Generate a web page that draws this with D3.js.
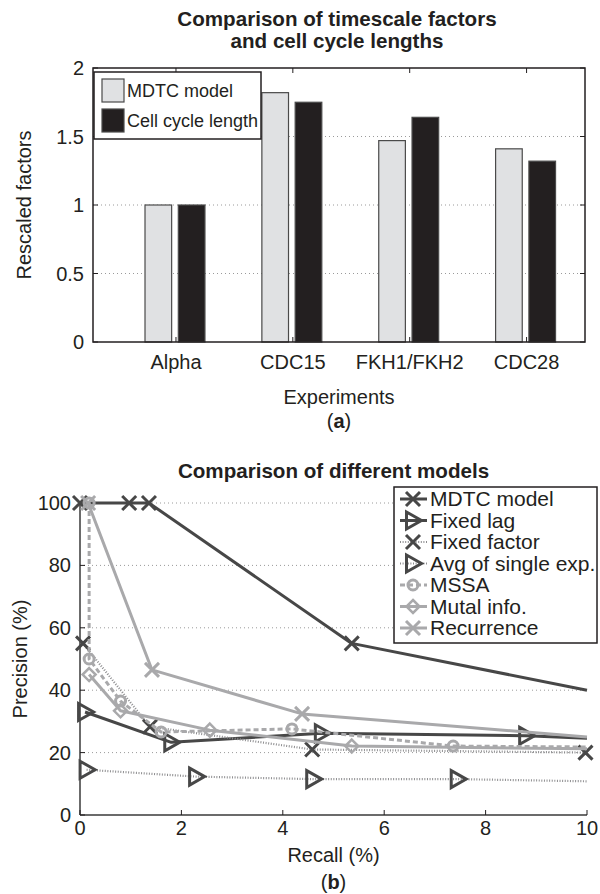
<!DOCTYPE html>
<html><head><meta charset="utf-8">
<script src="https://cdn.jsdelivr.net/npm/d3@7"></script>
<style>body{margin:0;background:#fff;} text{font-family:"Liberation Sans",Arial,Helvetica,sans-serif;fill:#231f20;}</style>
</head><body><svg id="c" width="600" height="894"></svg>
<script>
// ---------- Panel (a) data ----------
const categories = ["Alpha", "CDC15", "FKH1/FKH2", "CDC28"];
const mdtcFactors = [1.0, 1.82, 1.47, 1.41];
const cellCycleLengths = [1.0, 1.75, 1.64, 1.32];
const barSeriesNames = ["MDTC model", "Cell cycle length"];
const barYTicks = [0, 0.5, 1, 1.5, 2];
const barYTickLabels = ["0", "0.5", "1", "1.5", "2"];

// ---------- Panel (b) data ----------
const lineSeriesNames = ["MDTC model", "Fixed lag", "Fixed factor", "Avg of single exp.", "MSSA", "Mutal info.", "Recurrence"];
const mdtcRecall = [0, 0.97, 1.36, 5.36, 10];
const mdtcPrecision = [100, 100, 100, 55, 40];
const fixedLagRecall = [0.1, 1.8, 4.77, 8.8, 10];
const fixedLagPrecision = [33, 23.3, 26.2, 25.4, 24.6];
const fixedFactorRecall = [0.06, 1.38, 4.58, 9.97];
const fixedFactorPrecision = [55, 28.3, 21, 20];
const avgSingleRecall = [0.13, 2.29, 4.6, 7.45, 10];
const avgSinglePrecision = [14.5, 12.3, 11.5, 11.5, 10.8];
const mssaRecall = [0.18, 0.18, 0.8, 1.6, 4.18, 7.36, 10];
const mssaPrecision = [100, 50, 36.5, 26.6, 27.6, 22.1, 21.8];
const mutalRecall = [0.18, 0.8, 2.56, 5.36, 10];
const mutalPrecision = [45, 33.4, 27.2, 22.1, 21.2];
const recurrenceRecall = [0.16, 1.42, 4.38, 10];
const recurrencePrecision = [100, 46.5, 32.4, 25];
const recallTicks = [0, 2, 4, 6, 8, 10];
const precisionTicks = [0, 20, 40, 60, 80, 100];

const svg = d3.select("#c");
const DARK = "#474747", LIGHT = "#a9a9ab", AX = "#231f20";
const FS = 20, TFS = 20.6;

// ================= Panel (a) =================
const A = {l: 93, r: 585, t: 68, b: 342};
const xa = d3.scaleLinear().domain([0.29, 4.5]).range([A.l, A.r]);
const ya = d3.scaleLinear().domain([0, 2]).range([A.b, A.t]);
const ga = svg.append("g");

ga.append("text").attr("x", 337).attr("y", 26).attr("text-anchor", "middle")
  .attr("font-size", TFS).attr("font-weight", "bold").text("Comparison of timescale factors");
ga.append("text").attr("x", 337).attr("y", 48).attr("text-anchor", "middle")
  .attr("font-size", TFS).attr("font-weight", "bold").text("and cell cycle lengths");

// grid
ga.selectAll(".ga").data(barYTicks.filter(v => v > 0 && v < 2)).join("line")
  .attr("x1", A.l).attr("x2", A.r).attr("y1", d => ya(d)).attr("y2", d => ya(d))
  .attr("stroke", "#9a9a9a").attr("stroke-width", 1).attr("stroke-dasharray", "1,3");

const catIdx = categories.map((c, i) => i + 1);
const bw = 0.228;
ga.selectAll(".b1").data(mdtcFactors).join("rect")
  .attr("x", (d, i) => xa(catIdx[i] - 0.265)).attr("width", xa(bw) - xa(0))
  .attr("y", d => ya(d)).attr("height", d => ya(0) - ya(d))
  .attr("fill", "#e0e1e3").attr("stroke", "#4a4a4a").attr("stroke-width", 1.2);
ga.selectAll(".b2").data(cellCycleLengths).join("rect")
  .attr("x", (d, i) => xa(catIdx[i] + 0.02)).attr("width", xa(bw) - xa(0))
  .attr("y", d => ya(d)).attr("height", d => ya(0) - ya(d))
  .attr("fill", "#231f20").attr("stroke", "#4a4a4a").attr("stroke-width", 1.2);

// box
ga.append("rect").attr("x", A.l).attr("y", A.t).attr("width", A.r - A.l).attr("height", A.b - A.t)
  .attr("fill", "none").attr("stroke", AX).attr("stroke-width", 1.5);

const tl = 5;
barYTicks.forEach((v, i) => {
  ga.append("line").attr("x1", A.l).attr("x2", A.l + tl).attr("y1", ya(v)).attr("y2", ya(v)).attr("stroke", AX);
  ga.append("line").attr("x1", A.r).attr("x2", A.r - tl).attr("y1", ya(v)).attr("y2", ya(v)).attr("stroke", AX);
  ga.append("text").attr("x", 84).attr("y", ya(v)).attr("dy", "0.35em").attr("text-anchor", "end")
    .attr("font-size", FS).text(barYTickLabels[i]);
});
categories.forEach((c, i) => {
  const x = xa(catIdx[i]);
  ga.append("line").attr("x1", x).attr("x2", x).attr("y1", A.b).attr("y2", A.b - tl).attr("stroke", AX);
  ga.append("line").attr("x1", x).attr("x2", x).attr("y1", A.t).attr("y2", A.t + tl).attr("stroke", AX);
  ga.append("text").attr("x", x).attr("y", 369).attr("text-anchor", "middle").attr("font-size", FS).text(c);
});
ga.append("text").attr("x", (A.l + A.r) / 2).attr("y", 404).attr("text-anchor", "middle").attr("font-size", FS).text("Experiments");
const ta = ga.append("text").attr("x", (A.l + A.r) / 2).attr("y", 428).attr("text-anchor", "middle").attr("font-size", FS);
ta.append("tspan").text("("); ta.append("tspan").attr("font-weight", "bold").text("a"); ta.append("tspan").text(")");
ga.append("text").attr("transform", "translate(31," + (A.t + A.b) / 2 + ") rotate(-90)")
  .attr("text-anchor", "middle").attr("font-size", FS).text("Rescaled factors");

// legend a
const la = ga.append("g");
la.append("rect").attr("x", 94).attr("y", 72).attr("width", 167).attr("height", 67)
  .attr("fill", "#fff").attr("stroke", AX).attr("stroke-width", 1.5);
[["#e0e1e3", 79], ["#231f20", 109]].forEach((s, i) => {
  la.append("rect").attr("x", 102).attr("y", s[1]).attr("width", 22).attr("height", 23)
    .attr("fill", s[0]).attr("stroke", "#4a4a4a").attr("stroke-width", 1.2);
  la.append("text").attr("x", 127).attr("y", s[1] + 11.5).attr("dy", "0.35em").attr("font-size", 18).text(barSeriesNames[i]);
});

// ================= Panel (b) =================
const B = {l: 80, r: 587, t: 503, b: 815};
const xb = d3.scaleLinear().domain([0, 10]).range([B.l, B.r]);
const yb = d3.scaleLinear().domain([0, 100]).range([B.b, B.t]);
const gb = svg.append("g");

gb.append("text").attr("x", (B.l + B.r) / 2).attr("y", 478).attr("text-anchor", "middle")
  .attr("font-size", TFS).attr("font-weight", "bold").text("Comparison of different models");

gb.selectAll(".gb").data(precisionTicks.filter(v => v > 0)).join("line")
  .attr("x1", B.l).attr("x2", B.r).attr("y1", d => yb(d)).attr("y2", d => yb(d))
  .attr("stroke", "#9a9a9a").attr("stroke-width", 1).attr("stroke-dasharray", "1,3");

gb.append("line").attr("x1", B.l).attr("x2", B.l).attr("y1", B.t).attr("y2", B.b).attr("stroke", "#3a3a3a").attr("stroke-width", 1.5);
gb.append("line").attr("x1", B.l).attr("x2", B.r).attr("y1", B.b).attr("y2", B.b).attr("stroke", "#3a3a3a").attr("stroke-width", 1.5);
precisionTicks.forEach(v => {
  gb.append("line").attr("x1", B.l).attr("x2", B.l + tl).attr("y1", yb(v)).attr("y2", yb(v)).attr("stroke", AX);
  gb.append("text").attr("x", 71).attr("y", yb(v)).attr("dy", "0.35em").attr("text-anchor", "end").attr("font-size", FS).text(v);
});
recallTicks.forEach(v => {
  gb.append("line").attr("x1", xb(v)).attr("x2", xb(v)).attr("y1", B.b).attr("y2", B.b - tl).attr("stroke", AX);
  gb.append("text").attr("x", xb(v)).attr("y", 835).attr("text-anchor", "middle").attr("font-size", FS).text(v);
});
gb.append("text").attr("x", (B.l + B.r) / 2).attr("y", 862).attr("text-anchor", "middle").attr("font-size", FS).text("Recall (%)");
const tb = gb.append("text").attr("x", (B.l + B.r) / 2).attr("y", 889).attr("text-anchor", "middle").attr("font-size", FS);
tb.append("tspan").text("("); tb.append("tspan").attr("font-weight", "bold").text("b"); tb.append("tspan").text(")");
gb.append("text").attr("transform", "translate(27," + (B.t + B.b) / 2 + ") rotate(-90)")
  .attr("text-anchor", "middle").attr("font-size", FS).text("Precision (%)");

function drawMarker(g, type, x, y, color) {
  if (type === "x") {
    const s = 7;
    g.append("path").attr("d", `M${x - s},${y - s}L${x + s},${y + s}M${x - s},${y + s}L${x + s},${y - s}`)
      .attr("stroke", color).attr("stroke-width", 3).attr("fill", "none");
  } else if (type === "tri") {
    g.append("path").attr("d", `M${x - 6.5},${y - 8.5}L${x + 8.5},${y}L${x - 6.5},${y + 8.5}Z`)
      .attr("stroke", color).attr("stroke-width", 3).attr("fill", "none");
  } else if (type === "circle") {
    g.append("circle").attr("cx", x).attr("cy", y).attr("r", 5)
      .attr("stroke", color).attr("stroke-width", 3).attr("fill", "none");
  } else if (type === "diamond") {
    const s = 6.5;
    g.append("path").attr("d", `M${x},${y - s}L${x + s},${y}L${x},${y + s}L${x - s},${y}Z`)
      .attr("stroke", color).attr("stroke-width", 2.5).attr("fill", "none");
  }
}

const series = [
  {name: lineSeriesNames[0], xs: mdtcRecall, ys: mdtcPrecision, color: DARK, mcolor: DARK, dash: null, w: 3, marker: "x"},
  {name: lineSeriesNames[1], xs: fixedLagRecall, ys: fixedLagPrecision, color: DARK, mcolor: DARK, dash: null, w: 3, marker: "tri"},
  {name: lineSeriesNames[2], xs: fixedFactorRecall, ys: fixedFactorPrecision, color: "#8d8d8f", mcolor: DARK, dash: "1,1.6", w: 2.2, marker: "x"},
  {name: lineSeriesNames[3], xs: avgSingleRecall, ys: avgSinglePrecision, color: "#8d8d8f", mcolor: DARK, dash: "1,1.6", w: 2.2, marker: "tri"},
  {name: lineSeriesNames[4], xs: mssaRecall, ys: mssaPrecision, color: LIGHT, mcolor: LIGHT, dash: "5,3", w: 3, marker: "circle"},
  {name: lineSeriesNames[5], xs: mutalRecall, ys: mutalPrecision, color: LIGHT, mcolor: LIGHT, dash: null, w: 3, marker: "diamond"},
  {name: lineSeriesNames[6], xs: recurrenceRecall, ys: recurrencePrecision, color: LIGHT, mcolor: LIGHT, dash: null, w: 3, marker: "x"}
];

const line = d3.line().x(d => xb(d[0])).y(d => yb(d[1]));
series.forEach(s => {
  const pts = s.xs.map((x, i) => [x, s.ys[i]]);
  const g = gb.append("g");
  g.append("path").attr("d", line(pts)).attr("fill", "none").attr("stroke", s.color)
    .attr("stroke-width", s.w).attr("stroke-dasharray", s.dash).attr("stroke-linejoin", "round");
  pts.filter(p => p[0] < 10).forEach(p => drawMarker(g, s.marker, xb(p[0]), yb(p[1]), s.mcolor));
});

// legend b
const lb = gb.append("g");
lb.append("rect").attr("x", 394).attr("y", 487).attr("width", 203).attr("height", 156)
  .attr("fill", "#fff").attr("stroke", AX).attr("stroke-width", 1.5);
series.forEach((s, i) => {
  const y = 499 + i * 21.5;
  lb.append("line").attr("x1", 400).attr("x2", 427).attr("y1", y).attr("y2", y)
    .attr("stroke", s.color).attr("stroke-width", s.w).attr("stroke-dasharray", s.dash);
  drawMarker(lb, s.marker, 413, y, s.mcolor);
  lb.append("text").attr("x", 430).attr("y", y).attr("dy", "0.35em").attr("font-size", 21).text(s.name);
});
</script></body></html>
